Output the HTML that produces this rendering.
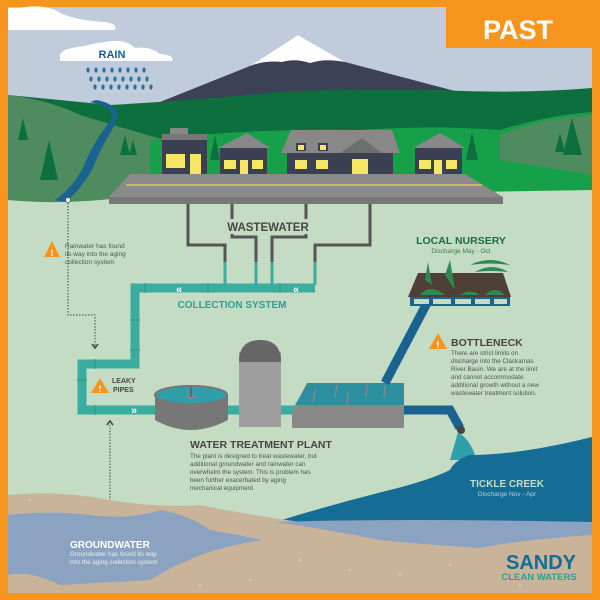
<!DOCTYPE html>
<html><head><meta charset="utf-8"><style>
html,body{margin:0;padding:0;background:#F7941D}
svg{display:block}
text{font-family:"Liberation Sans",sans-serif}
</style></head><body>
<svg width="600" height="600" viewBox="0 0 600 600" xmlns="http://www.w3.org/2000/svg">
<rect x="0" y="0" width="600" height="600" fill="#F7941D"/>
<rect x="8" y="7" width="584" height="586" fill="#C0CCDC"/>
<path d="M8 30 L115 30 Q118 24 105 22 Q70 20 55 10 Q40 4 20 8 L8 8 Z" fill="#fff"/>
<path d="M60 61 L172 61 Q175 55 160 54 Q150 46 135 48 Q125 38 105 42 Q95 43 85 46 Q62 48 60 55 Z" fill="#fff"/>
<text x="112" y="58" font-size="11" font-weight="bold" fill="#1D5C8A" text-anchor="middle">RAIN</text>
<g fill="#2A6F9B">
<g id="r1"><ellipse cx="88" cy="70" rx="1.6" ry="2.6"/><ellipse cx="96" cy="70" rx="1.6" ry="2.6"/><ellipse cx="104" cy="70" rx="1.6" ry="2.6"/><ellipse cx="112" cy="70" rx="1.6" ry="2.6"/><ellipse cx="120" cy="70" rx="1.6" ry="2.6"/><ellipse cx="128" cy="70" rx="1.6" ry="2.6"/><ellipse cx="136" cy="70" rx="1.6" ry="2.6"/><ellipse cx="144" cy="70" rx="1.6" ry="2.6"/></g>
<use href="#r1" x="3" y="9"/><use href="#r1" x="7" y="17"/>
</g>
<path d="M140 110 L250 66 L298 35 L345 62 L470 95 L470 120 L140 120 Z" fill="#3D4155"/>
<path d="M250 66 L298 35 L345 62 Q325 58 310 63 Q295 58 282 62 Q265 60 250 66 Z" fill="#fff"/>
<rect x="446" y="7" width="146" height="41" fill="#F7941D"/>
<text x="518" y="39" font-size="27" font-weight="bold" fill="#fff" text-anchor="middle">PAST</text>
<path d="M8 95 Q60 100 110 105 Q200 100 280 92 Q360 88 440 90 Q520 94 592 88 L592 210 L8 210 Z" fill="#0D6E3E"/>
<path d="M8 95 Q50 100 80 115 Q130 130 165 140 L165 210 L8 210 Z" fill="#4E8B5E"/>
<path d="M150 140 Q250 128 360 130 Q430 125 500 130 Q550 115 592 112 L592 200 L150 200 Z" fill="#17A04A"/>
<path d="M500 135 Q540 118 592 115 L592 175 L500 160 Z" fill="#4E8B5E"/>
<g fill="#0D6E3E">
<path d="M23 118 L18 140 L28 140 Z"/><path d="M49 140 L40 180 L58 180 Z"/>
<path d="M125 135 L120 155 L130 155 Z"/><path d="M133 140 L129 155 L137 155 Z"/>
<path d="M215 135 L210 160 L220 160 Z"/><path d="M472 132 L466 160 L478 160 Z"/>
<path d="M572 118 L563 155 L582 155 Z"/><path d="M560 133 L555 152 L565 152 Z"/>
</g>
<path d="M8 200 Q60 205 120 198 L592 190 L592 593 L8 593 Z" fill="#C3DCC3"/>
<path d="M90 102 Q115 108 112 118 Q105 128 100 135 Q90 150 82 170 Q70 190 55 200 L66 202 Q80 190 92 170 Q100 150 108 137 Q117 122 118 115 Q115 103 96 100 Z" fill="#1A6390"/>
<g>
<rect x="170" y="128" width="18" height="6" fill="#888"/>
<rect x="162" y="134" width="45" height="40" fill="#3A3F52"/>
<rect x="162" y="134" width="45" height="6" fill="#777"/>
<rect x="166" y="154" width="19" height="14" fill="#F5E663"/><rect x="190" y="154" width="11" height="20" fill="#F5E663"/>
<path d="M218 148 L247 133 L270 148 Z" fill="#888"/>
<rect x="220" y="148" width="47" height="26" fill="#3A3F52"/>
<rect x="224" y="160" width="12" height="9" fill="#F5E663"/><rect x="240" y="160" width="8" height="14" fill="#F5E663"/><rect x="252" y="160" width="11" height="9" fill="#F5E663"/>
<path d="M281 153 L291 130 L392 130 L400 153 Z" fill="#888"/>
<rect x="287" y="153" width="106" height="21" fill="#3A3F52"/>
<rect x="296" y="143" width="10" height="8" fill="#3A3F52"/><rect x="298" y="145" width="6" height="5" fill="#F5E663"/>
<rect x="318" y="143" width="10" height="8" fill="#3A3F52"/><rect x="320" y="145" width="6" height="5" fill="#F5E663"/>
<path d="M340 153 L362 138 L382 153 Z" fill="#6E6E6E"/>
<rect x="295" y="160" width="12" height="9" fill="#F5E663"/><rect x="316" y="160" width="12" height="9" fill="#F5E663"/>
<rect x="352" y="159" width="16" height="15" fill="#F5E663"/>
<path d="M413 148 L440 133 L465 148 Z" fill="#888"/>
<rect x="415" y="148" width="47" height="26" fill="#3A3F52"/>
<rect x="419" y="160" width="12" height="9" fill="#F5E663"/><rect x="434" y="160" width="8" height="14" fill="#F5E663"/><rect x="446" y="160" width="11" height="9" fill="#F5E663"/>
</g>
<path d="M130 174 L465 174 L503 197 L109 197 Z" fill="#8A8A8A"/>
<line x1="126" y1="185" x2="482" y2="185" stroke="#D8C85A" stroke-width="1.5"/>
<rect x="109" y="197" width="394" height="7" fill="#777"/>
<g fill="none" stroke="#555" stroke-width="3">
<path d="M188 204 V245 H225 V262"/><path d="M232 204 V237 H256 V262"/>
<path d="M306 204 V237 H272 V262"/><path d="M370 204 V245 H315 V262"/>
</g>
<g fill="none" stroke="#3BADA0" stroke-width="3">
<path d="M225 262 V285 M256 262 V285 M272 262 V285 M315 262 V285"/>
</g>
<rect x="225" y="219" width="87" height="15" fill="#C3DCC3"/>
<text x="268" y="231" font-size="11.5" font-weight="bold" fill="#4A4542" text-anchor="middle">WASTEWATER</text>
<g fill="none" stroke="#3BADA0" stroke-width="9">
<path d="M315 288 H135 V364 H82 V410 H160"/>
<path d="M228 410 H298"/>
</g>
<g stroke="#2E9384" stroke-width="1"><line x1="145" y1="283" x2="145" y2="293"/><line x1="208" y1="283" x2="208" y2="293"/><line x1="280" y1="283" x2="280" y2="293"/><line x1="130" y1="320" x2="140" y2="320"/><line x1="130" y1="350" x2="140" y2="350"/><line x1="95" y1="359" x2="95" y2="369"/><line x1="77" y1="380" x2="87" y2="380"/><line x1="95" y1="405" x2="95" y2="415"/></g>
<text x="176" y="293" fill="#fff" font-size="11" font-weight="bold">«</text>
<text x="293" y="293" fill="#fff" font-size="11" font-weight="bold">«</text>
<text x="131" y="414" fill="#fff" font-size="11" font-weight="bold">»</text>
<text x="232" y="308" font-size="10" font-weight="bold" fill="#2E9F92" text-anchor="middle">COLLECTION SYSTEM</text>
<path d="M68 200 V315 H95 V346" fill="none" stroke="#444" stroke-width="1" stroke-dasharray="1.5,1.5"/>
<circle cx="68" cy="200" r="2.5" fill="#fff" stroke="#444" stroke-width="0.6"/>
<path d="M92 344 L95 348 L98 344" fill="none" stroke="#444" stroke-width="1.5"/>
<path d="M110 528 V425" fill="none" stroke="#444" stroke-width="1" stroke-dasharray="1.5,1.5"/>
<path d="M107 425 L110 421 L113 425" fill="none" stroke="#444" stroke-width="1.5"/>
<circle cx="110" cy="528" r="2.5" fill="#fff" stroke="#444" stroke-width="0.6"/>
<g fill="#F7941D">
<path d="M52 241 L60 257 L44 257 Z"/><path d="M100 378 L109 393 L91 393 Z"/>
<path d="M438 333 L447 349 L429 349 Z"/><path d="M58 535 L66 550 L50 550 Z"/>
</g>
<g fill="#fff" font-size="9" font-weight="bold" text-anchor="middle"><text x="52" y="256">!</text><text x="100" y="392">!</text><text x="438" y="348">!</text><text x="58" y="549">!</text></g>
<g font-size="6.5" fill="#555"><text x="65" y="248">Rainwater has found</text><text x="65" y="256">its way into the aging</text><text x="65" y="264">collection system</text></g>
<g font-size="7" font-weight="bold" fill="#4A4542"><text x="112" y="383">LEAKY</text><text x="113" y="392">PIPES</text></g>
<path d="M155 395 L155 420 Q190 440 228 420 L228 395 Z" fill="#777"/>
<ellipse cx="191" cy="395" rx="36" ry="9" fill="#2F9FAA" stroke="#777" stroke-width="2"/>
<ellipse cx="191" cy="397" rx="5" ry="2" fill="#888"/><rect x="190" y="387" width="2" height="10" fill="#666"/>
<rect x="239" y="352" width="42" height="75" fill="#9E9E9E"/>
<path d="M239 362 Q239 340 260 340 Q281 340 281 362 Z" fill="#666"/>
<path d="M292 412 L307 383 L404 383 L404 428 L292 428 Z" fill="#888"/>
<path d="M295 405 L308 383 L404 383 L404 405 Z" fill="#2B8FA0"/>
<g stroke="#888" stroke-width="1.5"><line x1="315" y1="390" x2="313" y2="402"/><line x1="337" y1="385" x2="335" y2="397"/><line x1="348" y1="392" x2="347" y2="404"/><line x1="367" y1="385" x2="366" y2="396"/><line x1="385" y1="386" x2="384" y2="397"/></g>
<g fill="none" stroke="#1A6390" stroke-width="9">
<path d="M404 410 H450 L460 428"/>
<path d="M385 383 L427 303"/>
</g>
<circle cx="461" cy="430" r="4" fill="#444"/>
<path d="M458 432 Q470 440 475 455 L490 460 L450 460 Z" fill="#2F9FAA"/>
<rect x="410" y="297" width="100" height="9" fill="#1A6390"/>
<g fill="#C3DCC3"><rect x="414" y="299" width="15" height="5"/><rect x="433" y="299" width="18" height="5"/><rect x="455" y="299" width="16" height="5"/><rect x="475" y="299" width="15" height="5"/><rect x="494" y="299" width="13" height="5"/></g>
<path d="M418 273 L503 273 L511 297 L408 297 Z" fill="#4E3F37"/>
<g fill="#2F8A52"><path d="M420 295 Q430 283 445 295 Z"/><path d="M460 295 Q470 288 480 295 Z"/><path d="M485 295 Q495 285 505 295 Z"/><path d="M445 275 L450 260 L455 290 Z"/><path d="M425 280 L428 262 L432 285 Z"/><path d="M470 265 Q490 255 510 265 Q490 262 470 265 Z"/><path d="M475 272 Q492 262 508 272 Q490 270 475 272 Z"/></g>
<text x="461" y="244" font-size="10.5" font-weight="bold" fill="#1E6E3C" text-anchor="middle">LOCAL NURSERY</text>
<text x="461" y="253" font-size="6.5" fill="#3E7A52" text-anchor="middle">Discharge May - Oct</text>
<text x="451" y="346" font-size="10.5" font-weight="bold" fill="#4A4542">BOTTLENECK</text>
<g font-size="6.3" fill="#555"><text x="451" y="355">There are strict limits on</text><text x="451" y="363">discharge into the Clackamas</text><text x="451" y="371">River Basin. We are at the limit</text><text x="451" y="379">and cannot accommodate</text><text x="451" y="387">additional growth without a new</text><text x="451" y="395">wastewater treatment solution.</text></g>
<text x="190" y="448" font-size="10.5" font-weight="bold" fill="#4A4542">WATER TREATMENT PLANT</text>
<g font-size="6.3" fill="#555"><text x="190" y="458">The plant is designed to treat wastewater, but</text><text x="190" y="466">additional groundwater and rainwater can</text><text x="190" y="474">overwhelm the system. This is problem has</text><text x="190" y="482">been  further exacerbated by aging</text><text x="190" y="490">mechanical equipment.</text></g>
<path d="M275 522 Q330 505 390 490 Q430 480 450 470 Q455 460 470 455 Q520 455 592 437 L592 530 L275 530 Z" fill="#156C94"/>
<text x="507" y="487" font-size="10" font-weight="bold" fill="#C3DCC3" text-anchor="middle">TICKLE CREEK</text>
<text x="507" y="496" font-size="6.5" fill="#B5D0D8" text-anchor="middle">Discharge Nov - Apr</text>
<path d="M8 495 Q60 490 110 500 Q160 508 200 505 Q250 515 300 522 Q400 520 450 528 Q520 535 592 530 L592 593 L8 593 Z" fill="#C9B49A"/>
<path d="M275 522 Q400 518 592 522 L592 535 Q520 540 480 548 Q430 545 380 540 Q330 530 275 522 Z" fill="#8BA3C0"/>
<path d="M8 515 Q50 510 90 515 Q130 520 160 510 Q190 515 210 530 Q240 535 262 540 Q230 545 200 555 Q165 570 150 580 L60 585 Q30 570 8 575 Z" fill="#8BA3C0"/>
<text x="70" y="548" font-size="10" font-weight="bold" fill="#fff">GROUNDWATER</text>
<g font-size="6.3" fill="#E8EEF5"><text x="70" y="556">Groundwater has found its way</text><text x="70" y="564">into the aging collection system</text></g>
<g fill="#fff" opacity="0.7"><circle cx="30" cy="500" r="0.8"/><circle cx="300" cy="560" r="0.8"/><circle cx="350" cy="570" r="0.8"/><circle cx="400" cy="575" r="0.8"/><circle cx="250" cy="580" r="0.8"/><circle cx="450" cy="565" r="0.8"/><circle cx="520" cy="585" r="0.8"/><circle cx="200" cy="585" r="0.8"/></g>
<text x="541" y="569" font-size="20" font-weight="bold" fill="#156C94" text-anchor="middle">SANDY</text>
<text x="539" y="580" font-size="9.5" font-weight="bold" fill="#2E9F92" text-anchor="middle">CLEAN WATERS</text>
</svg>
</body></html>
